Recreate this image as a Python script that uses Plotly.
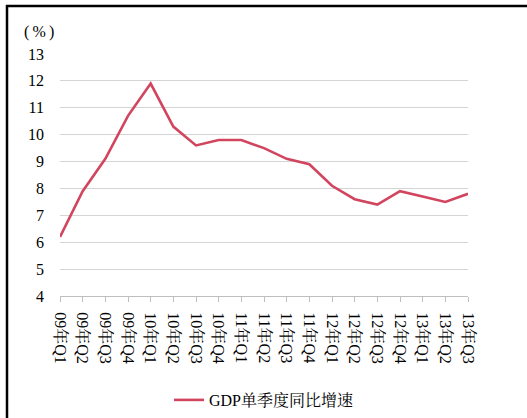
import plotly.graph_objects as go

categories = ["09年Q1", "09年Q2", "09年Q3", "09年Q4",
              "10年Q1", "10年Q2", "10年Q3", "10年Q4",
              "11年Q1", "11年Q2", "11年Q3", "11年Q4",
              "12年Q1", "12年Q2", "12年Q3", "12年Q4",
              "13年Q1", "13年Q2", "13年Q3"]
gdp_growth = [6.2, 7.9, 9.1, 10.7, 11.9, 10.3, 9.6, 9.8, 9.8, 9.5, 9.1, 8.9,
              8.1, 7.6, 7.4, 7.9, 7.7, 7.5, 7.8]
series_name = "GDP单季度同比增速"
y_ticks = [4, 5, 6, 7, 8, 9, 10, 11, 12, 13]

W, H = 527, 418
L, R, T, B = 60, 59, 54, 122
pw, ph = W - L - R, H - T - B

def px(x):
    return (x - L) / pw

def py(y):
    return (H - B - y) / ph

FONT = "Times New Roman, Liberation Serif, Noto Serif CJK SC, Noto Sans CJK SC, serif"

fig = go.Figure()
fig.add_trace(go.Scatter(
    x=categories, y=gdp_growth, mode="lines", name=series_name,
    line=dict(color="#D1455F", width=2.6), showlegend=True,
))

fig.update_layout(
    width=W, height=H,
    margin=dict(l=L, r=R, t=T, b=B, autoexpand=False),
    paper_bgcolor="white", plot_bgcolor="white",
    font=dict(family=FONT, size=16, color="#000000"),
    showlegend=True,
    legend=dict(orientation="h", x=0.5, xanchor="center", y=py(400), yanchor="middle",
                font=dict(size=16, family=FONT), bgcolor="rgba(0,0,0,0)"),
    xaxis=dict(
        type="category", range=[0, len(categories) - 1], automargin=False,
        tickangle=90, showgrid=False, showline=True, linecolor="#BFBFBF", linewidth=1,
        ticks="outside", ticklen=5, tickcolor="#BFBFBF", tickwidth=1,
        tickfont=dict(size=16, family=FONT), ticklabelstandoff=7,
    ),
    yaxis=dict(
        range=[4, 13], tickvals=y_ticks, showgrid=True, gridcolor="#D4D4D4", gridwidth=1.3,
        zeroline=False, showline=False, ticks="", tickfont=dict(size=16, family=FONT),
        ticklabelstandoff=15, automargin=False,
    ),
    annotations=[dict(text="(\u2009%\u2009)", x=px(22), y=py(32), xref="paper", yref="paper",
                      xanchor="left", yanchor="middle", showarrow=False,
                      font=dict(size=16, family=FONT))],
    shapes=[
        dict(type="line", xref="paper", yref="paper", x0=px(7), x1=px(7), y0=py(430), y1=py(5),
             line=dict(color="black", width=2.5)),
        dict(type="line", xref="paper", yref="paper", x0=px(6), x1=px(540), y0=py(6), y1=py(6),
             line=dict(color="black", width=2.5)),
    ],
)

fig.write_html("out.html", config={"displayModeBar": False},
               post_script="document.body.style.margin='0';")
